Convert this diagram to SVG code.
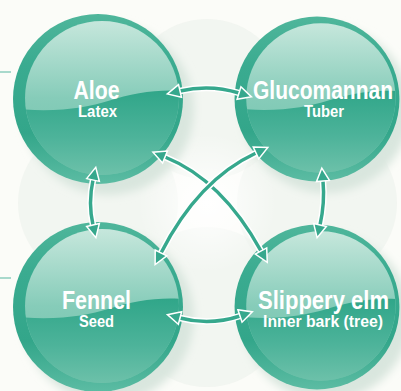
<svg xmlns="http://www.w3.org/2000/svg" width="401" height="391" viewBox="0 0 401 391">
<defs>
<style>
.title{font-family:"Liberation Sans Narrow","Liberation Sans",Arial,sans-serif;font-weight:bold;fill:#fff;text-anchor:middle}
.t1{font-size:26px}
.t2{font-size:16px}
.shaft-bg{fill:none;stroke:#fff;stroke-width:6.5}
.shaft{fill:none;stroke:#36a88d;stroke-width:3.5;marker-start:url(#ah);marker-end:url(#ah)}
.tick{stroke:#a8d9cc;stroke-width:2}
.halo{fill:#e9f0ea;opacity:0.5}
.shadow{fill:#d9e6de;filter:url(#blur)}
</style>
<linearGradient id="gOuter" x1="0" y1="0" x2="0" y2="1">
<stop offset="0" stop-color="#4fb69b"/>
<stop offset="0.3" stop-color="#3aab90"/>
<stop offset="0.7" stop-color="#33a68a"/>
<stop offset="1" stop-color="#5cbca3"/>
</linearGradient>
<linearGradient id="gInner" x1="0" y1="0" x2="0" y2="1">
<stop offset="0" stop-color="#c6e7dc"/>
<stop offset="0.5" stop-color="#86ccb9"/>
<stop offset="1" stop-color="#6cc0a8"/>
</linearGradient>
<linearGradient id="gLow" x1="0" y1="0" x2="0" y2="1">
<stop offset="0" stop-color="#30a689"/>
<stop offset="0.5" stop-color="#4db39a"/>
<stop offset="1" stop-color="#74c4ad"/>
</linearGradient>
<radialGradient id="gGlow" cx="0.5" cy="0.5" r="0.5">
<stop offset="0" stop-color="#ffffff"/>
<stop offset="1" stop-color="#ffffff" stop-opacity="0"/>
</radialGradient>
<clipPath id="cInner"><circle cx="4" cy="-1" r="77"/></clipPath>
<filter id="blur" x="-20%" y="-20%" width="140%" height="140%"><feGaussianBlur stdDeviation="4"/></filter>
<g id="sphere">
<circle r="85" fill="url(#gOuter)"/>
<circle cx="4" cy="-1" r="77" fill="url(#gInner)"/>
<path clip-path="url(#cInner)" d="M-80,10 C-40,14 -10,8 10,2 C35,-6 60,-10 85,-8 L85,85 L-80,85 Z" fill="url(#gLow)"/>
</g>
<marker id="ah" viewBox="-2 -9 18 18" refX="0" refY="0" markerWidth="18" markerHeight="18" markerUnits="userSpaceOnUse" orient="auto-start-reverse">
<path d="M0,-6.5 L13,0 L0,6.5 Z" fill="#36a88d" stroke="#fff" stroke-width="1.5"/>
</marker>
</defs>

<rect width="401" height="391" fill="#fbfcf8"/>
<g id="background">
<circle class="halo" cx="207" cy="99" r="80"/>
<circle class="halo" cx="207" cy="307" r="80"/>
<circle class="halo" cx="98" cy="203" r="80"/>
<circle class="halo" cx="317" cy="203" r="80"/>
<circle cx="207" cy="203" r="70" fill="url(#gGlow)"/>
<circle class="shadow" cx="108" cy="109" r="86"/>
<circle class="shadow" cx="326" cy="109" r="84"/>
<circle class="shadow" cx="108" cy="317" r="86"/>
<circle class="shadow" cx="326" cy="317" r="84"/>
<line class="tick" x1="0" y1="72" x2="11" y2="72"/>
<line class="tick" x1="0" y1="278" x2="11" y2="278"/>
</g>

<g id="node-aloe">
<use href="#sphere" transform="translate(98,99)"/>
<text class="title t1" x="96.5" y="99" textLength="46" lengthAdjust="spacingAndGlyphs">Aloe</text>
<text class="title t2" x="97.5" y="117" textLength="39" lengthAdjust="spacingAndGlyphs">Latex</text>
</g>
<g id="node-glucomannan">
<use href="#sphere" transform="translate(317,99) scale(0.97)"/>
<text class="title t1" x="323" y="99" textLength="140" lengthAdjust="spacingAndGlyphs">Glucomannan</text>
<text class="title t2" x="324" y="117" textLength="40" lengthAdjust="spacingAndGlyphs">Tuber</text>
</g>
<g id="node-fennel">
<use href="#sphere" transform="translate(98,307)"/>
<text class="title t1" x="96.5" y="309" textLength="69" lengthAdjust="spacingAndGlyphs">Fennel</text>
<text class="title t2" x="96.5" y="327" textLength="35" lengthAdjust="spacingAndGlyphs">Seed</text>
</g>
<g id="node-slippery-elm">
<use href="#sphere" transform="translate(317,307) scale(0.97)"/>
<text class="title t1" x="323.5" y="309" textLength="131" lengthAdjust="spacingAndGlyphs">Slippery elm</text>
<text class="title t2" x="323" y="327" textLength="120" lengthAdjust="spacingAndGlyphs">Inner bark (tree)</text>
</g>

<g id="connectors">
<path class="shaft-bg" d="M180,91 Q210,84 239,93"/>
<path class="shaft" d="M180,91 Q210,84 239,93"/>
<path class="shaft-bg" d="M180,318 Q210,326 240,316"/>
<path class="shaft" d="M180,318 Q210,326 240,316"/>
<path class="shaft-bg" d="M93,180 Q88,203 93,225"/>
<path class="shaft" d="M93,180 Q88,203 93,225"/>
<path class="shaft-bg" d="M323,181 Q325,203 320,225"/>
<path class="shaft" d="M323,181 Q325,203 320,225"/>
<path class="shaft-bg" d="M165,157 Q222,180 261,251"/>
<path class="shaft" d="M165,157 Q222,180 261,251"/>
<path class="shaft-bg" d="M256,153 Q198,180 161,253"/>
<path class="shaft" d="M256,153 Q198,180 161,253"/>
</g>
</svg>
